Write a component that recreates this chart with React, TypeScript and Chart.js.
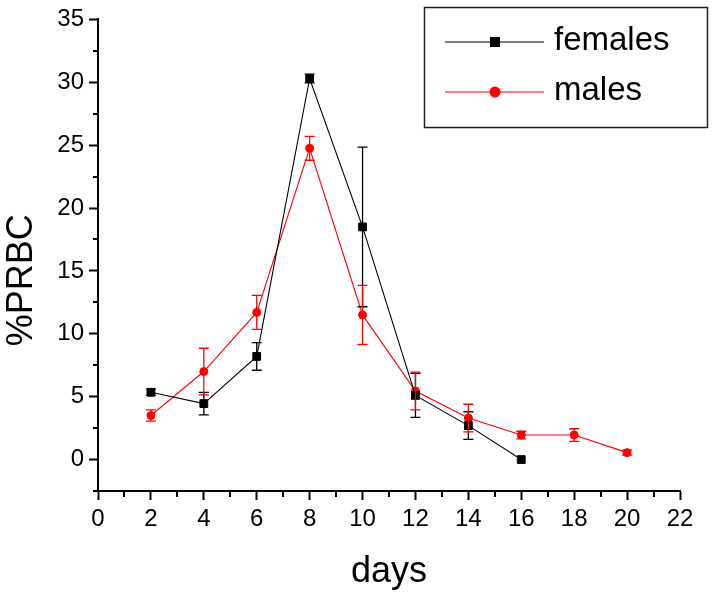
import React, { useEffect, useRef } from 'react';
import { Chart, registerables } from 'chart.js';

Chart.register(...registerables);

// ---- data ----
const seriesNames = ['females', 'males'];
const seriesColors = ['#000000', '#ff0000'];
const femaleDays = [2, 4, 6, 8, 10, 12, 14, 16];
const femaleValues = [5.35, 4.45, 8.2, 30.3, 18.5, 5.1, 2.7, 0];
const femaleErrors = [0.25, 0.9, 1.1, 0.35, 6.35, 1.75, 1.1, 0];
const maleDays = [2, 4, 6, 8, 10, 12, 14, 16, 18, 20];
const maleValues = [3.5, 7.0, 11.7, 24.75, 11.5, 5.45, 3.3, 1.95, 1.95, 0.55];
const maleErrors = [0.45, 1.85, 1.35, 0.95, 2.35, 1.5, 1.1, 0.3, 0.5, 0.2];
const xTitle = 'days';
const yTitle = '%PRBC';

const FONT = '"Liberation Sans", Arial, sans-serif';

const errorBarPlugin = {
  id: 'errorBars',
  afterDatasetsDraw(chart: any) {
    const { ctx } = chart;
    const xs = chart.scales.x;
    const ys = chart.scales.y;
    chart.data.datasets.forEach((ds: any) => {
      const errs: number[] = ds.errors;
      if (!errs) return;
      ctx.save();
      ctx.strokeStyle = ds.borderColor;
      ctx.lineWidth = 1.3;
      ds.data.forEach((p: any, j: number) => {
        const e = errs[j];
        if (!e) return;
        const x = xs.getPixelForValue(p.x);
        const yt = ys.getPixelForValue(p.y + e);
        const yb = ys.getPixelForValue(p.y - e);
        ctx.beginPath();
        ctx.moveTo(x, yt);
        ctx.lineTo(x, yb);
        ctx.moveTo(x - 5, yt);
        ctx.lineTo(x + 5, yt);
        ctx.moveTo(x - 5, yb);
        ctx.lineTo(x + 5, yb);
        ctx.stroke();
      });
      ctx.restore();
    });
  },
};

const minorTickPlugin = {
  id: 'minorTicks',
  afterDraw(chart: any) {
    const { ctx } = chart;
    const xs = chart.scales.x;
    const ys = chart.scales.y;
    ctx.save();
    ctx.strokeStyle = '#000';
    ctx.lineWidth = 2;
    ctx.beginPath();
    xs.ticks.forEach((t: any) => {
      if (t.value % 2 !== 0) {
        const px = Math.round(xs.getPixelForValue(t.value));
        ctx.moveTo(px, xs.top);
        ctx.lineTo(px, xs.top + 6);
      }
    });
    ys.ticks.forEach((t: any) => {
      if (Math.abs(t.value % 5) > 1e-6) {
        const py = Math.round(ys.getPixelForValue(t.value));
        ctx.moveTo(ys.right - 5, py);
        ctx.lineTo(ys.right, py);
      }
    });
    ctx.stroke();
    ctx.restore();
  },
};

const legendPlugin = {
  id: 'boxLegend',
  afterDraw(chart: any) {
    const { ctx } = chart;
    ctx.save();
    ctx.strokeStyle = '#222';
    ctx.lineWidth = 1.5;
    ctx.strokeRect(424.5, 7.5, 283, 120);
    chart.data.datasets.forEach((ds: any, i: number) => {
      const y = 42 + i * 50;
      ctx.strokeStyle = ds.borderColor;
      ctx.fillStyle = ds.borderColor;
      ctx.lineWidth = 1;
      ctx.beginPath();
      ctx.moveTo(445, y);
      ctx.lineTo(544, y);
      ctx.stroke();
      if (ds.pointStyle === 'rect') {
        ctx.fillRect(495 - 5, y - 5, 10, 10);
      } else {
        ctx.beginPath();
        ctx.arc(495, y, 5.5, 0, Math.PI * 2);
        ctx.fill();
      }
      ctx.fillStyle = '#000';
      ctx.font = `33px ${FONT}`;
      ctx.textBaseline = 'middle';
      ctx.textAlign = 'left';
      ctx.fillText(ds.label, 554, y - 1);
    });
    ctx.restore();
  },
};

export default function App() {
  const canvasRef = useRef<HTMLCanvasElement | null>(null);

  useEffect(() => {
    document.body.style.margin = '0';
    const canvas = canvasRef.current;
    if (!canvas) return;
    Chart.defaults.font.family = FONT;
    Chart.defaults.color = '#000';

    const femaleData = femaleDays.map((d, i) => ({ x: d, y: femaleValues[i] }));
    const maleData = maleDays.map((d, i) => ({ x: d, y: maleValues[i] }));

    const chart = new Chart(canvas, {
      type: 'scatter',
      data: {
        datasets: [
          {
            label: seriesNames[0],
            data: femaleData,
            errors: femaleErrors,
            showLine: true,
            borderColor: seriesColors[0],
            backgroundColor: seriesColors[0],
            borderWidth: 1.1,
            pointStyle: 'rect',
            pointRadius: 5.5,
            pointBorderWidth: 1,
          } as any,
          {
            label: seriesNames[1],
            data: maleData,
            errors: maleErrors,
            showLine: true,
            borderColor: seriesColors[1],
            backgroundColor: seriesColors[1],
            borderWidth: 1.1,
            pointStyle: 'circle',
            pointRadius: 4,
            pointBorderWidth: 1,
          } as any,
        ],
      },
      options: {
        responsive: false,
        animation: false,
        devicePixelRatio: 1,
        layout: { padding: { top: 18, right: 35, left: 0, bottom: 0 } },
        plugins: {
          legend: { display: false },
          tooltip: { enabled: false },
        },
        scales: {
          x: {
            type: 'linear',
            min: 0,
            max: 22,
            afterFit: (s: any) => {
              s.height = 109;
            },
            ticks: {
              stepSize: 1,
              autoSkip: false,
              maxRotation: 0,
              minRotation: 0,
              padding: 5,
              font: { size: 24 },
              callback: (v: any) => (Number(v) % 2 === 0 ? String(v) : ''),
            },
            grid: {
              drawOnChartArea: false,
              drawTicks: true,
              tickLength: 9,
              tickWidth: 2,
              tickColor: (c: any) =>
                c.tick && c.tick.value % 2 === 0 ? '#000' : 'rgba(0,0,0,0)',
            },
            border: { display: true, color: '#000', width: 2 },
            title: {
              display: true,
              text: xTitle,
              font: { size: 36 },
              padding: { top: 0, bottom: 6 },
            },
          },
          y: {
            type: 'linear',
            min: -2.5,
            max: 35,
            afterFit: (s: any) => {
              s.width = 98;
            },
            ticks: {
              stepSize: 2.5,
              autoSkip: false,
              padding: 5,
              font: { size: 24 },
              callback: (v: any) =>
                Math.abs(Number(v) % 5) < 1e-6 ? String(v) : '',
            },
            grid: {
              drawOnChartArea: false,
              drawTicks: true,
              tickLength: 9,
              tickWidth: 2,
              tickColor: (c: any) =>
                c.tick && Math.abs(c.tick.value % 5) < 1e-6 && c.tick.value >= 0
                  ? '#000'
                  : 'rgba(0,0,0,0)',
            },
            border: { display: true, color: '#000', width: 2 },
            title: {
              display: true,
              text: yTitle + '     ',
              font: { size: 36 },
              padding: { top: 0, bottom: 0 },
            },
          },
        },
      } as any,
      plugins: [errorBarPlugin, minorTickPlugin, legendPlugin],
    });

    return () => {
      chart.destroy();
    };
  }, []);

  return (
    <div style={{ width: 715, height: 600 }}>
      <canvas ref={canvasRef} width={715} height={600} />
    </div>
  );
}
